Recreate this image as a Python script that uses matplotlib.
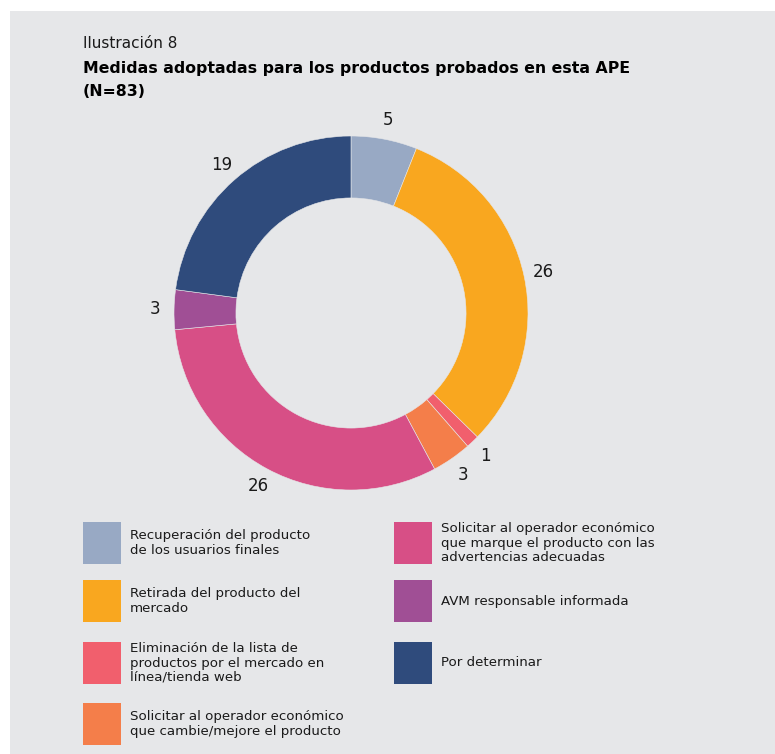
import matplotlib
matplotlib.use("Agg")
from matplotlib import pyplot as plt
from matplotlib.patches import Rectangle

# data
values = [5, 26, 1, 3, 26, 3, 19]
value_labels = ["5", "26", "1", "3", "26", "3", "19"]
categories = [
    "Recuperación del producto\nde los usuarios finales",
    "Retirada del producto del\nmercado",
    "Eliminación de la lista de\nproductos por el mercado en\nlínea/tienda web",
    "Solicitar al operador económico\nque cambie/mejore el producto",
    "Solicitar al operador económico\nque marque el producto con las\nadvertencias adecuadas",
    "AVM responsable informada",
    "Por determinar",
]
colors = ["#98a9c4", "#f9a71f", "#f15f6d", "#f47e4a", "#d74f86", "#a04f95", "#2f4b7c"]

W, H = 775, 754
BG = "#e6e7e9"
TXT = "#1a1a1a"


def fx(x):
    return x / W


def fy(y):
    return 1 - y / H


fig = plt.figure(figsize=(W / 100, H / 100), dpi=100, facecolor="white")
fig.patches.append(Rectangle((fx(10), 0), 1 - fx(10), fy(11), transform=fig.transFigure,
                             facecolor=BG, edgecolor="none", zorder=-5))

# titles
fig.text(fx(83), fy(44), "Ilustración 8", fontsize=11, color=TXT, va="center", ha="left")
fig.text(fx(83), fy(68), "Medidas adoptadas para los productos probados en esta APE",
         fontsize=11.3, fontweight="bold", color="black", va="center", ha="left")
fig.text(fx(83), fy(92), "(N=83)", fontsize=11.3, fontweight="bold", color="black",
         va="center", ha="left")

# donut
cx, cy, r = 351, 313, 177
ax = fig.add_axes([fx(cx - r), fy(cy + r), 2 * r / W, 2 * r / H])
ax.set_facecolor("none")
wedges, texts = ax.pie(values, colors=colors, labels=value_labels, startangle=90,
                       counterclock=False, radius=1, labeldistance=1.11,
                       wedgeprops=dict(width=0.35, edgecolor=BG, linewidth=0.4),
                       textprops=dict(fontsize=12, color=TXT))
for t in texts:
    t.set_ha("center")
    t.set_va("center")
ax.set_xlim(-1, 1)
ax.set_ylim(-1, 1)
ax.set_aspect("equal")
ax.axis("off")

# legend
left_rows = [543, 601, 663, 724]
right_rows = [543, 601, 663]
positions = [(83, y) for y in left_rows] + [(394, y) for y in right_rows]
for (x, y), lab, col in zip(positions, categories, colors):
    fig.patches.append(Rectangle((fx(x), fy(y + 21)), 38 / W, 42 / H, transform=fig.transFigure,
                                 facecolor=col, edgecolor="none"))
    fig.text(fx(x + 47), fy(y), lab, fontsize=9.6, color=TXT, va="center", ha="left",
             linespacing=1.15)

fig.savefig("out.png", dpi=100, facecolor=fig.get_facecolor())
